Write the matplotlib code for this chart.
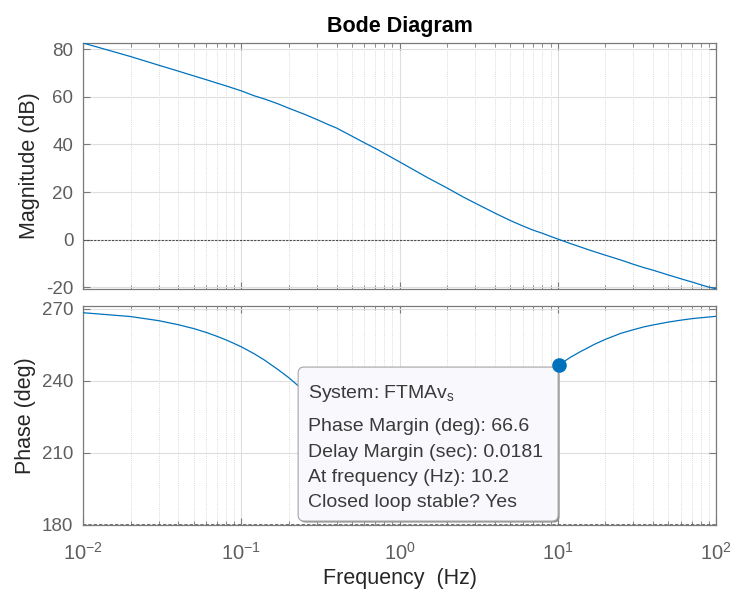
import numpy as np
import matplotlib
matplotlib.use("Agg")
import matplotlib.pyplot as plt
from matplotlib.patches import FancyBboxPatch
from matplotlib.ticker import LogLocator, NullFormatter
from matplotlib.transforms import IdentityTransform

plt.rcParams['font.family'] = ['Liberation Sans', 'DejaVu Sans']
plt.rcParams['mathtext.fontset'] = 'custom'
plt.rcParams['mathtext.rm'] = 'Liberation Sans'
plt.rcParams['mathtext.it'] = 'Liberation Sans:italic'
plt.rcParams['mathtext.bf'] = 'Liberation Sans:bold'
plt.rcParams['axes.unicode_minus'] = False

# Open-loop frequency response of FTMAv_s
freq_hz = [0.01, 0.02, 0.03, 0.04, 0.05, 0.06, 0.07, 0.08, 0.09,
           0.1, 0.12, 0.14, 0.15, 0.17, 0.2, 0.25, 0.3, 0.35, 0.4, 0.5, 0.6, 0.7, 0.8, 0.9,
           1, 1.5, 2, 2.5, 3, 4, 5, 6, 7, 8, 9,
           10, 12, 14, 15, 17, 20, 25, 30, 35, 40, 50, 60, 70, 80, 90, 100]
mag_db = [82.6, 76.9, 73.3, 70.8, 68.8, 67.2, 65.8, 64.6, 63.5,
          62.5, 60.5, 59.1, 58.4, 57.1, 55.2, 52.7, 50.5, 48.5, 46.9, 43.5, 40.7, 38.4, 36.3, 34.4,
          32.7, 26.1, 21.7, 18.1, 15.4, 11.2, 8.1, 5.8, 4.0, 2.7, 1.4,
          0.3, -1.6, -3.1, -3.8, -5.0, -6.5, -8.5, -10.3, -11.7, -12.8, -14.8, -16.4, -17.7, -18.9, -19.9, -20.6]
phase_deg = [268.4, 266.8, 265.1, 263.4, 261.8, 260.2, 258.6, 257.1, 255.6,
             254.2, 251.4, 248.7, 247.3, 244.8, 241.3, 235.8, 231.3, 227.5, 224.3, 219.3, 216.0, 213.5, 211.9, 210.7,
             210.1, 209.8, 212.0, 215.0, 218.3, 224.5, 230.0, 234.4, 238.3, 241.4, 244.0,
             246.3, 249.8, 252.3, 253.3, 255.2, 257.3, 259.8, 261.3, 262.5, 263.3, 264.5, 265.3, 265.9, 266.3, 266.6, 266.9]

# Stability margins at the gain crossover
crossover_hz = 10.2
phase_margin_deg = 66.6
delay_margin_s = 0.0181
system_name = 'FTMAv'

mag_ticks = [-20, 0, 20, 40, 60, 80]
phase_ticks = [180, 210, 240, 270]
freq_ticks = [1e-2, 1e-1, 1e0, 1e1, 1e2]
freq_tick_labels = ['$10^{-2}$', '$10^{-1}$', '$10^{0}$', '$10^{1}$', '$10^{2}$']

LINE = '#0072BD'
FRAME = '#7a7a7a'
TICKLBL = '#5e5e5e'
LABEL = '#262626'

fig = plt.figure(figsize=(7.34, 5.89), dpi=100)
ax_mag = fig.add_axes([0.1131, 0.5093, 0.8624, 0.4177])
ax_ph = fig.add_axes([0.1131, 0.1087, 0.8624, 0.3718])


def style_axes(ax):
    ax.set_xscale('log')
    ax.set_xlim(1e-2, 1e2)
    ax.xaxis.set_minor_locator(LogLocator(base=10, subs=np.arange(2, 10), numticks=20))
    ax.xaxis.set_minor_formatter(NullFormatter())
    ax.grid(True, which='major', color='#dedede', lw=0.8, ls='-')
    ax.grid(True, which='minor', axis='x', color='#cfcfcf', lw=0.6, ls=(0, (1, 1.5)))
    ax.set_axisbelow(True)
    for sp in ax.spines.values():
        sp.set_color(FRAME)
        sp.set_linewidth(0.9)
    ax.tick_params(which='both', direction='in', top=True, right=True,
                   color=FRAME, labelcolor=TICKLBL, labelsize=13.5)
    ax.tick_params(which='major', length=5, width=0.8)
    ax.tick_params(which='minor', length=3, width=0.6)
    ax.tick_params(axis='y', pad=7)


style_axes(ax_mag)
style_axes(ax_ph)

# Magnitude
ax_mag.plot(freq_hz, mag_db, color=LINE, lw=0.9, zorder=3)
ax_mag.axhline(0, color='#4a4a4a', lw=0.8, ls=(0, (2, 1.2)), zorder=2)
ax_mag.set_ylim(-20.7, 82.6)
ax_mag.set_yticks(mag_ticks)
ax_mag.set_xticks(freq_ticks)
ax_mag.tick_params(axis='x', labelbottom=False)
ax_mag.set_ylabel('Magnitude (dB)', fontsize=15.5, color=LABEL)
ax_mag.yaxis.set_label_coords(-0.068, 0.5)
ax_mag.set_title('Bode Diagram', fontsize=15.5, fontweight='bold', pad=8, color='black')

# Phase
ax_ph.plot(freq_hz, phase_deg, color=LINE, lw=0.9, zorder=3)
ax_ph.axhline(180, color='#5a5a5a', lw=1.2, ls=(0, (2, 1.2)), zorder=2, clip_on=False)
ax_ph.set_ylim(180, 271.2)
ax_ph.set_yticks(phase_ticks)
ax_ph.set_xticks(freq_ticks, freq_tick_labels)
ax_ph.tick_params(axis='x', pad=12, labelsize=14.5)
ax_ph.set_ylabel('Phase (deg)', fontsize=15.5, color=LABEL)
ax_ph.yaxis.set_label_coords(-0.074, 0.5)
ax_ph.set_xlabel('Frequency  (Hz)', fontsize=15.5, color=LABEL, labelpad=3)

# Phase-margin marker and its data tip
pm_phase = 180 + phase_margin_deg
ax_ph.plot([crossover_hz], [pm_phase], 'o', ms=9.5, color=LINE, zorder=8, clip_on=False)

mx, my = ax_ph.transData.transform((crossover_hz, pm_phase))
box_w, box_h = 260, 154
bx0 = mx - 1 - box_w
by1 = my - 2
by0 = by1 - box_h
shadow = FancyBboxPatch((bx0 + 1.5, by0 - 1.5), box_w, box_h,
                        boxstyle='round,pad=0,rounding_size=6',
                        transform=IdentityTransform(), facecolor='#8c8c8c',
                        edgecolor='none', zorder=5, clip_on=False)
tip = FancyBboxPatch((bx0, by0), box_w, box_h,
                     boxstyle='round,pad=0,rounding_size=6',
                     transform=IdentityTransform(), facecolor='#f8f8fd',
                     edgecolor='#a6a6a6', lw=0.8, zorder=6, clip_on=False)
ax_ph.add_artist(shadow)
ax_ph.add_artist(tip)

tip_lines = [
    f'System: {system_name}$_\\mathrm{{s}}$',
    f'Phase Margin (deg): {phase_margin_deg}',
    f'Delay Margin (sec): {delay_margin_s}',
    f'At frequency (Hz): {crossover_hz}',
    'Closed loop stable? Yes',
]
baseline_offsets = [31, 64.3, 90, 115, 140]
for txt, off in zip(tip_lines, baseline_offsets):
    ax_ph.text(bx0 + 10, by1 - off, txt, transform=IdentityTransform(),
               fontsize=14, color='#3a3a3a', va='baseline', ha='left',
               zorder=7, clip_on=False)

fig.savefig('out.png', dpi=100)
